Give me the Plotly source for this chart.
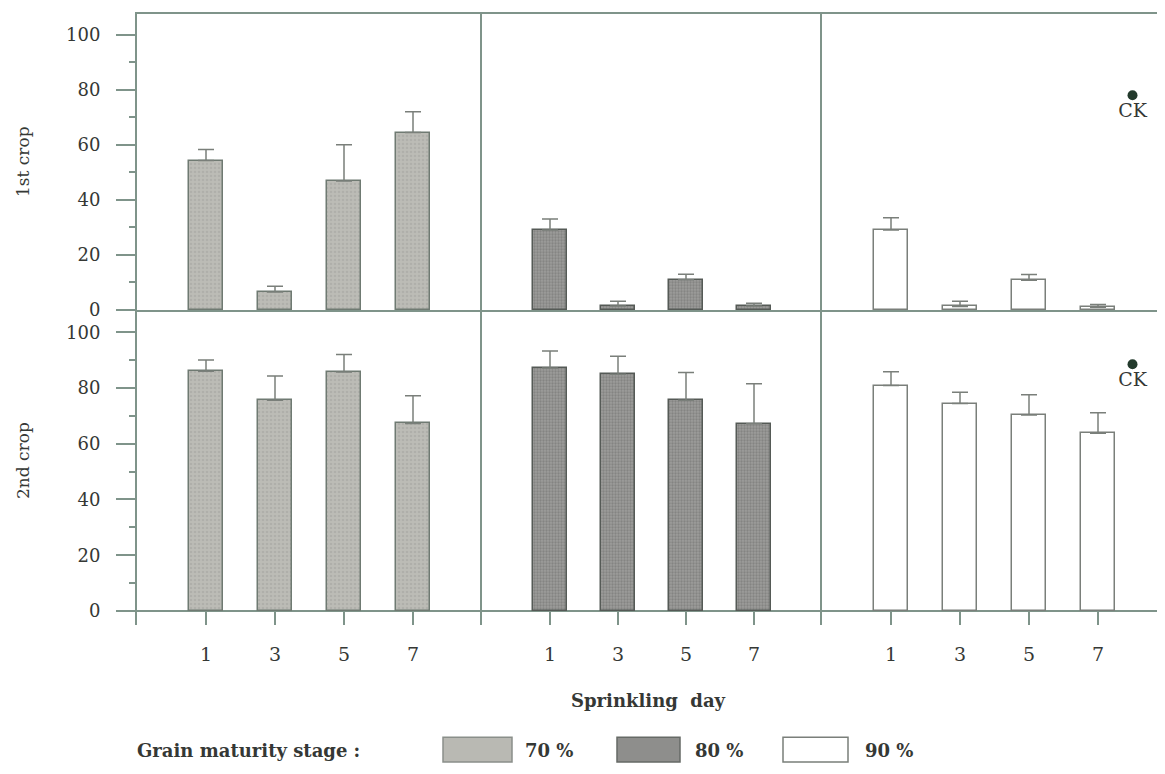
import plotly.graph_objects as go
from plotly.subplots import make_subplots

OX, OY = 8, 8  # default page body margin
W, H = 1165 - OX, 774 - 2 * OY

days = [1, 3, 5, 7]
day_labels = ["1", "3", "5", "7"]
stages = ["70 %", "80 %", "90 %"]
row_titles = ["1st crop", "2nd crop"]

crop1_70 = [54.3, 6.5, 46.8, 64.4]
crop1_70_err = [4.0, 2.1, 13.2, 7.6]
crop1_80 = [29.0, 1.4, 11.0, 1.4]
crop1_80_err = [4.0, 1.8, 2.0, 1.0]
crop1_90 = [29.0, 1.3, 10.8, 1.0]
crop1_90_err = [4.5, 1.9, 2.1, 1.0]

crop2_70 = [86.0, 75.6, 85.7, 67.3]
crop2_70_err = [4.0, 8.7, 6.3, 9.9]
crop2_80 = [87.2, 84.9, 75.6, 67.2]
crop2_80_err = [6.1, 6.5, 10.0, 14.3]
crop2_90 = [80.9, 74.4, 70.3, 63.8]
crop2_90_err = [4.9, 4.1, 7.3, 7.3]

ck_x = 8
ck_values = [78.0, 88.5]
ck_label = "CK"

yticks = [0, 20, 40, 60, 80, 100]

FONT = "DejaVu Serif"
TXT = "#353835"
LINE = "#7f948a"

styles = [
    dict(color="#b9b9b3", pattern=dict(shape=".", fgcolor="#a2a29d", bgcolor="#bcbcb6", size=4, solidity=0.35),
         line=dict(color="#6f7a72", width=1.5)),
    dict(color="#939391", pattern=dict(shape=".", fgcolor="#6c6c6a", bgcolor="#9c9c9a", size=3, solidity=0.45),
         line=dict(color="#555a56", width=1.5)),
    dict(color="#ffffff", line=dict(color="#7a7f7a", width=1.5)),
]

data = [
    [(crop1_70, crop1_70_err), (crop1_80, crop1_80_err), (crop1_90, crop1_90_err)],
    [(crop2_70, crop2_70_err), (crop2_80, crop2_80_err), (crop2_90, crop2_90_err)],
]

fig = make_subplots(rows=2, cols=3, horizontal_spacing=0, vertical_spacing=0)

def px_x(p):
    return (p - OX) / W

def px_y(p):
    return 1 - (p - OY) / H

col_dom = [(137, 482), (482, 822), (822, 1165)]
col_range = [(-1, 9), (-1, 9), (-1, -1 + (1165 - 822) / 34.5)]
row_dom = [(14, 314), (314, 633)]
row_range = [(0, 107.5), (-4.96, 108.0)]

for r in range(2):
    for c in range(3):
        vals, errs = data[r][c]
        st = styles[c]
        marker = dict(color=st["color"], line=st["line"])
        if "pattern" in st:
            marker["pattern"] = st["pattern"]
        fig.add_trace(go.Bar(
            x=days, y=vals, width=1.0, marker=marker,
            error_y=dict(type="data", array=errs, arrayminus=[0] * len(errs), symmetric=False,
                         color="#7a7f7a", thickness=1.5, width=8),
            showlegend=False, name=stages[c]), row=r + 1, col=c + 1)
    fig.add_trace(go.Scatter(
        x=[ck_x], y=[ck_values[r]], mode="markers+text", text=[ck_label],
        textposition="bottom center", textfont=dict(family=FONT, size=19, color=TXT),
        marker=dict(color="#233a2c", size=10), showlegend=False), row=r + 1, col=3)

for r in range(2):
    for c in range(3):
        idx = r * 3 + c + 1
        xa = "xaxis" if idx == 1 else f"xaxis{idx}"
        ya = "yaxis" if idx == 1 else f"yaxis{idx}"
        xd = dict(domain=[px_x(col_dom[c][0]), min(1.0, px_x(col_dom[c][1]))], range=list(col_range[c]),
                  showgrid=False, zeroline=False, fixedrange=True)
        if r == 0:
            xd.update(showline=True, mirror=True, linecolor=LINE, linewidth=2,
                      ticks="", showticklabels=False)
        else:
            xd.update(showline=False, tickvals=days, ticktext=day_labels, ticks="inside",
                      ticklen=14, tickwidth=1.5, tickcolor=LINE, ticklabelstandoff=16,
                      tickfont=dict(family=FONT, size=19, color=TXT))
        yd = dict(domain=[px_y(row_dom[r][1]), px_y(row_dom[r][0])], range=list(row_range[r]),
                  showgrid=False, showline=True, linecolor=LINE, linewidth=2, fixedrange=True,
                  zeroline=(r == 1), zerolinecolor=LINE, zerolinewidth=2)
        if c == 0:
            yd.update(tickvals=yticks, ticks="outside", ticklen=19, tickwidth=1.5, tickcolor=LINE,
                      ticklabelstandoff=12, tickfont=dict(family=FONT, size=18, color=TXT),
                      minor=dict(dtick=10, tick0=0, ticks="outside", ticklen=6, tickwidth=1.5,
                                 tickcolor=LINE))
        else:
            yd.update(ticks="", showticklabels=False)
        fig.layout[xa].update(xd)
        fig.layout[ya].update(yd)

annotations = [
    dict(text=row_titles[0], x=px_x(23), y=px_y(164), textangle=-90),
    dict(text=row_titles[1], x=px_x(23), y=px_y(467), textangle=-90),
    dict(text="<b>Sprinkling  day</b>", x=px_x(648), y=px_y(710)),
    dict(text="<b>Grain maturity stage :</b>", x=px_x(135), y=px_y(760), xanchor="left"),
    dict(text="<b>" + stages[0] + "</b>", x=px_x(523), y=px_y(760), xanchor="left"),
    dict(text="<b>" + stages[1] + "</b>", x=px_x(693), y=px_y(760), xanchor="left"),
    dict(text="<b>" + stages[2] + "</b>", x=px_x(863), y=px_y(760), xanchor="left"),
]
for a in annotations:
    a.setdefault("xanchor", "center")
    a.update(xref="paper", yref="paper", yanchor="middle", showarrow=False,
             font=dict(family=FONT, size=18, color=TXT))
annotations[0]["font"] = dict(family=FONT, size=17, color=TXT)
annotations[1]["font"] = dict(family=FONT, size=17, color=TXT)

shapes = []
boxes = [(443, 512, "#b9b9b3", "#8a8f8a"), (617, 680, "#8e8e8c", "#666a66"), (783, 848, "#ffffff", "#7a7f7a")]
for x0, x1, fc, lc in boxes:
    shapes.append(dict(type="rect", xref="paper", yref="paper", x0=px_x(x0), x1=px_x(x1),
                       y0=px_y(772), y1=px_y(747), fillcolor=fc, line=dict(color=lc, width=1.5)))

fig.update_layout(width=W, height=H, margin=dict(l=0, r=0, t=0, b=0),
                  paper_bgcolor="white", plot_bgcolor="white",
                  annotations=annotations, shapes=shapes, bargap=0)

fig.write_html("out.html")
